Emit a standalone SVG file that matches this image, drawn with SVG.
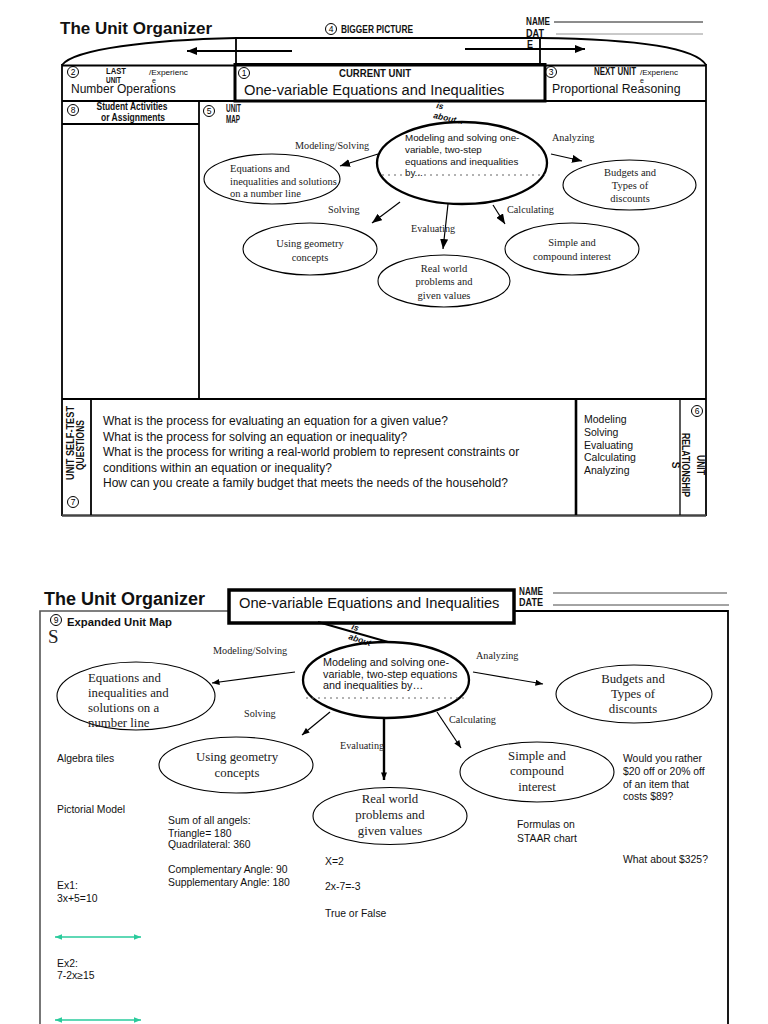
<svg xmlns="http://www.w3.org/2000/svg" width="768" height="1024" viewBox="0 0 768 1024">
<style>
.sans{font-family:"Liberation Sans",Arial,sans-serif;fill:#111}
.serif{font-family:"Liberation Serif","Times New Roman",serif;fill:#222}
.bc{font-family:"Liberation Sans",Arial,sans-serif;font-weight:bold;fill:#111}
.ib{font-family:"Liberation Sans",Arial,sans-serif;font-weight:bold;font-style:italic;font-size:8.5px;fill:#111}
.ln{stroke:#000;stroke-width:1.8;fill:none}
.el{fill:none;stroke:#000;stroke-width:1.1}
.elc{fill:none;stroke:#000;stroke-width:2.3}
.num{fill:none;stroke:#000;stroke-width:1}
.numt{font-family:"Liberation Sans",Arial,sans-serif;font-size:8.5px;text-anchor:middle;fill:#000}
.ar{stroke:#000;stroke-width:1.2;fill:none}
.teal{stroke:#2acb9c;stroke-width:1.5;fill:none}
</style>
<defs>
<marker id="m1" viewBox="0 0 10 8" refX="10" refY="4" markerWidth="10" markerHeight="8" markerUnits="userSpaceOnUse" orient="auto"><path d="M0,0 L10,4 L0,8 z" fill="#000"/></marker>
<marker id="m2" viewBox="0 0 10 8" refX="10" refY="4" markerWidth="8" markerHeight="6" markerUnits="userSpaceOnUse" orient="auto"><path d="M0,0 L10,4 L0,8 z" fill="#000"/></marker>
<marker id="mb" viewBox="0 0 10 8" refX="10" refY="4" markerWidth="13" markerHeight="8" markerUnits="userSpaceOnUse" orient="auto"><path d="M0,0 L10,4 L0,8 z" fill="#000"/></marker>
<marker id="mt" viewBox="0 0 10 8" refX="10" refY="4" markerWidth="7" markerHeight="6" markerUnits="userSpaceOnUse" orient="auto-start-reverse"><path d="M0,0 L10,4 L0,8 z" fill="#2acb9c"/></marker>
</defs>

<!-- PAGE 1 -->
<g id="p1-header">
<text class="bc" x="60" y="34" font-size="17">The Unit Organizer</text>
<circle class="num" cx="331" cy="29" r="5.5"/><text class="numt" x="331" y="32">4</text>
<text class="bc" x="341" y="33" font-size="10.5" textLength="72" lengthAdjust="spacingAndGlyphs">BIGGER PICTURE</text>
<text class="bc" x="526" y="25" font-size="10" textLength="24" lengthAdjust="spacingAndGlyphs">NAME</text>
<line x1="554" y1="22" x2="703" y2="22" stroke="#000" stroke-width="0.9"/>
<text class="bc" x="526" y="36.5" font-size="10" textLength="18" lengthAdjust="spacingAndGlyphs">DAT</text>
<line x1="556" y1="34" x2="703" y2="34" stroke="#888" stroke-width="0.9"/>
<text class="bc" x="527" y="47.5" font-size="10" textLength="6" lengthAdjust="spacingAndGlyphs">E</text>
</g>

<g id="p1-frame">
<path class="ln" d="M62,65 C74,49 150,40 236,38 L540,38 C620,39 694,45 706,65"/>
<line class="ln" x1="236" y1="38" x2="236" y2="64"/>
<line class="ln" x1="540" y1="38" x2="540" y2="64"/>
<line class="ln" x1="62" y1="65.5" x2="706" y2="65.5"/>
<line class="ln" x1="62" y1="101" x2="706" y2="101"/>
<line class="ln" x1="62" y1="64" x2="62" y2="516"/>
<line class="ln" x1="706" y1="64" x2="706" y2="516"/>
<line class="ln" x1="199" y1="101" x2="199" y2="399"/>
<line class="ln" x1="62" y1="124" x2="199" y2="124"/>
<line class="ln" x1="62" y1="399" x2="706" y2="399"/>
<line x1="62" y1="515.5" x2="706" y2="515.5" stroke="#444" stroke-width="2.4"/>
<line class="ln" x1="91" y1="399" x2="91" y2="515"/>
<line x1="576" y1="399" x2="576" y2="515" stroke="#000" stroke-width="2.6"/>
<line x1="680" y1="399" x2="680" y2="515" stroke="#000" stroke-width="1.3"/>
</g>

<g id="p1-bigger-arrows">
<line x1="292" y1="51" x2="187" y2="51" stroke="#000" stroke-width="2" marker-end="url(#mb)"/>
<line x1="465" y1="49" x2="585" y2="49" stroke="#000" stroke-width="2" marker-end="url(#mb)"/>
</g>

<g id="p1-last-unit">
<circle class="num" cx="73" cy="72" r="5.5"/><text class="numt" x="73" y="75">2</text>
<text class="bc" x="106" y="73.5" font-size="9.5" textLength="20" lengthAdjust="spacingAndGlyphs">LAST</text>
<text class="bc" x="106" y="83" font-size="9.5" textLength="15" lengthAdjust="spacingAndGlyphs">UNIT</text>
<text class="sans" x="149" y="75" font-size="7.5" textLength="39" lengthAdjust="spacingAndGlyphs">/Experienc</text>
<text class="sans" x="152" y="82.5" font-size="7">e</text>
<text class="sans" x="71" y="93" font-size="12">Number Operations</text>
</g>

<g id="p1-current-unit">
<rect x="235" y="64.5" width="310" height="36.5" fill="none" stroke="#000" stroke-width="3"/>
<circle class="num" cx="244" cy="73" r="5.5"/><text class="numt" x="244" y="76">1</text>
<text class="bc" x="375" y="76.5" font-size="10.5" text-anchor="middle" textLength="72" lengthAdjust="spacingAndGlyphs">CURRENT UNIT</text>
<text class="sans" x="244" y="95" font-size="14.7">One-variable Equations and Inequalities</text>
</g>

<g id="p1-next-unit">
<circle class="num" cx="551" cy="72" r="5.5"/><text class="numt" x="551" y="75">3</text>
<text class="bc" x="594" y="74.5" font-size="10.5" textLength="42" lengthAdjust="spacingAndGlyphs">NEXT UNIT</text>
<text class="sans" x="640" y="74.5" font-size="7.5" textLength="38" lengthAdjust="spacingAndGlyphs">/Experienc</text>
<text class="sans" x="640" y="82.5" font-size="7">e</text>
<text class="sans" x="552" y="93" font-size="12.3">Proportional Reasoning</text>
</g>

<g id="p1-student-activities">
<circle class="num" cx="73" cy="110" r="5.5"/><text class="numt" x="73" y="113">8</text>
<text class="bc" x="132" y="110" font-size="10" text-anchor="middle" textLength="71" lengthAdjust="spacingAndGlyphs">Student Activities</text>
<text class="bc" x="133" y="120.5" font-size="10" text-anchor="middle" textLength="64" lengthAdjust="spacingAndGlyphs">or Assignments</text>
</g>

<g id="p1-unit-map-label">
<circle class="num" cx="209" cy="111" r="5.5"/><text class="numt" x="209" y="114">5</text>
<text class="bc" x="226" y="112" font-size="10" textLength="15" lengthAdjust="spacingAndGlyphs">UNIT</text>
<text class="bc" x="226" y="123" font-size="10" textLength="14" lengthAdjust="spacingAndGlyphs">MAP</text>
</g>

<g id="p1-connectors">
<line class="ar" x1="378" y1="154" x2="340" y2="166" marker-end="url(#m1)"/>
<line class="ar" x1="400" y1="202" x2="372" y2="223" marker-end="url(#m1)"/>
<line class="ar" x1="448" y1="204" x2="443" y2="249" stroke-width="1.5" marker-end="url(#m1)"/>
<line class="ar" x1="493" y1="205" x2="505" y2="224" marker-end="url(#m1)"/>
<line class="ar" x1="551" y1="154" x2="582" y2="161" marker-end="url(#m1)"/>
</g>

<g id="p1-labels">
<text class="ib" transform="translate(436,108) rotate(12)">is</text>
<text class="ib" transform="translate(433,118) rotate(12)">about...</text>
<text class="serif" x="295" y="149" font-size="10.2">Modeling/Solving</text>
<text class="serif" x="328" y="212.5" font-size="10.2">Solving</text>
<text class="serif" x="411" y="231.5" font-size="10.2">Evaluating</text>
<text class="serif" x="507" y="212.5" font-size="10.2">Calculating</text>
<text class="serif" x="552" y="141" font-size="10.2">Analyzing</text>
</g>

<g id="p1-central">
<ellipse class="elc" cx="462" cy="163" rx="85" ry="41"/>
<text class="sans" x="405" y="141" font-size="9.8">Modeling and solving one-</text>
<text class="sans" x="405" y="153" font-size="9.8">variable, two-step</text>
<text class="sans" x="405" y="164.5" font-size="9.8">equations and inequalities</text>
<text class="sans" x="405" y="176" font-size="9.8">by...</text>
<line x1="382" y1="175" x2="545" y2="175" stroke="#666" stroke-width="1" stroke-dasharray="2,4"/>
</g>

<g id="p1-equations">
<ellipse class="el" cx="272" cy="179" rx="68" ry="25"/>
<text class="serif" x="230" y="171.5" font-size="10.5">Equations and</text>
<text class="serif" x="230" y="184.5" font-size="10.5">inequalities and solutions</text>
<text class="serif" x="230" y="197" font-size="10.5">on a number line</text>
</g>

<g id="p1-budgets">
<ellipse class="el" cx="629.5" cy="185" rx="66.5" ry="25"/>
<text class="serif" x="630" y="176" font-size="10.5" text-anchor="middle">Budgets and</text>
<text class="serif" x="630" y="189" font-size="10.5" text-anchor="middle">Types of</text>
<text class="serif" x="630" y="201.5" font-size="10.5" text-anchor="middle">discounts</text>
</g>

<g id="p1-geometry">
<ellipse class="el" cx="310" cy="249" rx="67" ry="26"/>
<text class="serif" x="310" y="246.5" font-size="10.5" text-anchor="middle">Using geometry</text>
<text class="serif" x="310" y="260.5" font-size="10.5" text-anchor="middle">concepts</text>
</g>

<g id="p1-interest">
<ellipse class="el" cx="572" cy="249" rx="67" ry="26"/>
<text class="serif" x="572" y="246" font-size="10.5" text-anchor="middle">Simple and</text>
<text class="serif" x="572" y="260" font-size="10.5" text-anchor="middle">compound interest</text>
</g>

<g id="p1-realworld">
<ellipse class="el" cx="444" cy="281" rx="66" ry="26"/>
<text class="serif" x="444" y="271.5" font-size="10.5" text-anchor="middle">Real world</text>
<text class="serif" x="444" y="285" font-size="10.5" text-anchor="middle">problems and</text>
<text class="serif" x="444" y="298.5" font-size="10.5" text-anchor="middle">given values</text>
</g>

<g id="p1-self-test">
<text class="bc" transform="translate(73.5,443) rotate(-90)" font-size="10.5" text-anchor="middle" textLength="74" lengthAdjust="spacingAndGlyphs">UNIT SELF-TEST</text>
<text class="bc" transform="translate(83.5,445) rotate(-90)" font-size="10.5" text-anchor="middle" textLength="50" lengthAdjust="spacingAndGlyphs">QUESTIONS</text>
<circle class="num" cx="73" cy="502" r="5.5"/><text class="numt" x="73" y="505">7</text>
<text class="sans" x="103" y="425" font-size="12">What is the process for evaluating an equation for a given value?</text>
<text class="sans" x="103" y="441" font-size="12">What is the process for solving an equation or inequality?</text>
<text class="sans" x="103" y="456" font-size="12">What is the process for writing a real-world problem to represent constraints or</text>
<text class="sans" x="103" y="472" font-size="12">conditions within an equation or inequality?</text>
<text class="sans" x="103" y="487" font-size="12">How can you create a family budget that meets the needs of the household?</text>
</g>

<g id="p1-relationships">
<text class="sans" x="584" y="423" font-size="10.5">Modeling</text>
<text class="sans" x="584" y="436" font-size="10.5">Solving</text>
<text class="sans" x="584" y="448.5" font-size="10.5">Evaluating</text>
<text class="sans" x="584" y="461" font-size="10.5">Calculating</text>
<text class="sans" x="584" y="473.5" font-size="10.5">Analyzing</text>
<circle class="num" cx="697" cy="411" r="5.5"/><text class="numt" x="697" y="414">6</text>
<text class="bc" transform="translate(696.5,465) rotate(90)" font-size="10" text-anchor="middle" textLength="20" lengthAdjust="spacingAndGlyphs">UNIT</text>
<text class="bc" transform="translate(681.5,465) rotate(90)" font-size="10" text-anchor="middle" textLength="64" lengthAdjust="spacingAndGlyphs">RELATIONSHIP</text>
<text class="bc" transform="translate(671.5,465) rotate(90)" font-size="10" text-anchor="middle">S</text>
</g>

<!-- PAGE 2 -->
<g id="p2-frame">
<path d="M229,611 H40 V1024" fill="none" stroke="#555" stroke-width="1.6"/>
<path d="M514,611 H728 V1024" fill="none" stroke="#000" stroke-width="1.8"/>
</g>

<g id="p2-header">
<text class="bc" x="44" y="605" font-size="18">The Unit Organizer</text>
<rect x="229" y="590" width="285" height="33" fill="#fff" stroke="#000" stroke-width="3.5"/>
<text class="sans" x="239" y="608" font-size="14.7">One-variable Equations and Inequalities</text>
<text class="bc" x="519" y="595" font-size="10" textLength="24" lengthAdjust="spacingAndGlyphs">NAME</text>
<line x1="553" y1="593" x2="727" y2="593" stroke="#333" stroke-width="0.9"/>
<text class="bc" x="519" y="606" font-size="10" textLength="24" lengthAdjust="spacingAndGlyphs">DATE</text>
<line x1="553" y1="605" x2="729" y2="605" stroke="#333" stroke-width="0.9"/>
</g>

<g id="p2-expanded-label">
<circle class="num" cx="56" cy="620" r="5.5"/><text class="numt" x="56" y="623">9</text>
<text class="bc" x="67" y="626" font-size="11.3">Expanded Unit Map</text>
<text class="serif" x="48" y="643" font-size="19" fill="#222">S</text>
</g>

<g id="p2-connectors">
<line x1="318" y1="622" x2="388" y2="642" stroke="#000" stroke-width="2"/>
<line class="ar" x1="295" y1="672" x2="212" y2="683" marker-end="url(#m2)"/>
<line class="ar" x1="330" y1="712" x2="302" y2="735" marker-end="url(#m2)"/>
<line x1="384" y1="717" x2="384" y2="780" stroke="#000" stroke-width="2.4" marker-end="url(#m2)"/>
<line class="ar" x1="437" y1="712" x2="461" y2="748" marker-end="url(#m2)"/>
<line class="ar" x1="473" y1="672" x2="543" y2="684" marker-end="url(#m2)"/>
<line class="teal" x1="55" y1="937" x2="141" y2="937" marker-start="url(#mt)" marker-end="url(#mt)"/>
<line class="teal" x1="55" y1="1020" x2="141" y2="1020" marker-start="url(#mt)" marker-end="url(#mt)"/>
</g>

<g id="p2-labels">
<text class="ib" transform="translate(351,629) rotate(18)">is</text>
<text class="ib" transform="translate(348,639) rotate(18)">about</text>
<text class="serif" x="213" y="654" font-size="10.2">Modeling/Solving</text>
<text class="serif" x="244" y="717" font-size="10.2">Solving</text>
<text class="serif" x="340" y="749" font-size="10.2">Evaluating</text>
<text class="serif" x="449" y="723" font-size="10.2">Calculating</text>
<text class="serif" x="476" y="659" font-size="10.2">Analyzing</text>
</g>

<g id="p2-central">
<ellipse class="elc" cx="386" cy="680" rx="83" ry="38"/>
<text class="sans" x="323" y="666" font-size="10.8">Modeling and solving one-</text>
<text class="sans" x="323" y="677.5" font-size="10.8">variable, two-step equations</text>
<text class="sans" x="323" y="689" font-size="10.8">and inequalities by…</text>
<line x1="306" y1="698" x2="466" y2="698" stroke="#666" stroke-width="1" stroke-dasharray="2,4"/>
</g>

<g id="p2-equations">
<ellipse class="el" cx="136" cy="696" rx="79" ry="34"/>
<text class="serif" x="88" y="682" font-size="12.8">Equations and</text>
<text class="serif" x="88" y="697" font-size="12.8">inequalities and</text>
<text class="serif" x="88" y="712" font-size="12.8">solutions on a</text>
<text class="serif" x="88" y="727" font-size="12.8">number line</text>
</g>

<g id="p2-budgets">
<ellipse class="el" cx="634" cy="694" rx="78" ry="29"/>
<text class="serif" x="633" y="683" font-size="12.8" text-anchor="middle">Budgets and</text>
<text class="serif" x="633" y="698" font-size="12.8" text-anchor="middle">Types of</text>
<text class="serif" x="633" y="713" font-size="12.8" text-anchor="middle">discounts</text>
</g>

<g id="p2-geometry">
<ellipse class="el" cx="236" cy="765" rx="77" ry="28"/>
<text class="serif" x="237" y="761" font-size="12.8" text-anchor="middle">Using geometry</text>
<text class="serif" x="237" y="777" font-size="12.8" text-anchor="middle">concepts</text>
</g>

<g id="p2-interest">
<ellipse class="el" cx="537" cy="772" rx="77" ry="30"/>
<text class="serif" x="537" y="760" font-size="12.8" text-anchor="middle">Simple and</text>
<text class="serif" x="537" y="775" font-size="12.8" text-anchor="middle">compound</text>
<text class="serif" x="537" y="791" font-size="12.8" text-anchor="middle">interest</text>
</g>

<g id="p2-realworld">
<ellipse class="el" cx="390" cy="816" rx="77" ry="28.5"/>
<text class="serif" x="390" y="803" font-size="12.8" text-anchor="middle">Real world</text>
<text class="serif" x="390" y="819" font-size="12.8" text-anchor="middle">problems and</text>
<text class="serif" x="390" y="835" font-size="12.8" text-anchor="middle">given values</text>
</g>

<g id="p2-notes">
<text class="sans" x="57" y="762" font-size="10.4">Algebra tiles</text>
<text class="sans" x="57" y="813" font-size="10.4">Pictorial Model</text>
<text class="sans" x="168" y="824" font-size="10.4">Sum of all angels:</text>
<text class="sans" x="168" y="836.5" font-size="10.4">Triangle= 180</text>
<text class="sans" x="168" y="847.5" font-size="10.4">Quadrilateral: 360</text>
<text class="sans" x="168" y="873" font-size="10.4">Complementary Angle: 90</text>
<text class="sans" x="168" y="885.5" font-size="10.4">Supplementary Angle: 180</text>
<text class="sans" x="325" y="865" font-size="10.4">X=2</text>
<text class="sans" x="325" y="890" font-size="10.4">2x-7=-3</text>
<text class="sans" x="325" y="917" font-size="10.4">True or False</text>
<text class="sans" x="57" y="889" font-size="10.4">Ex1:</text>
<text class="sans" x="57" y="902" font-size="10.4">3x+5=10</text>
<text class="sans" x="57" y="967" font-size="10.4">Ex2:</text>
<text class="sans" x="57" y="979" font-size="10.4">7-2x≥15</text>
<text class="sans" x="517" y="828" font-size="10.4">Formulas on</text>
<text class="sans" x="517" y="842" font-size="10.4">STAAR chart</text>
<text class="sans" x="623" y="762" font-size="10.4">Would you rather</text>
<text class="sans" x="623" y="775" font-size="10.4">$20 off or 20% off</text>
<text class="sans" x="623" y="788" font-size="10.4">of an item that</text>
<text class="sans" x="623" y="800" font-size="10.4">costs $89?</text>
<text class="sans" x="623" y="863" font-size="10.4">What about $325?</text>
</g>
</svg>
